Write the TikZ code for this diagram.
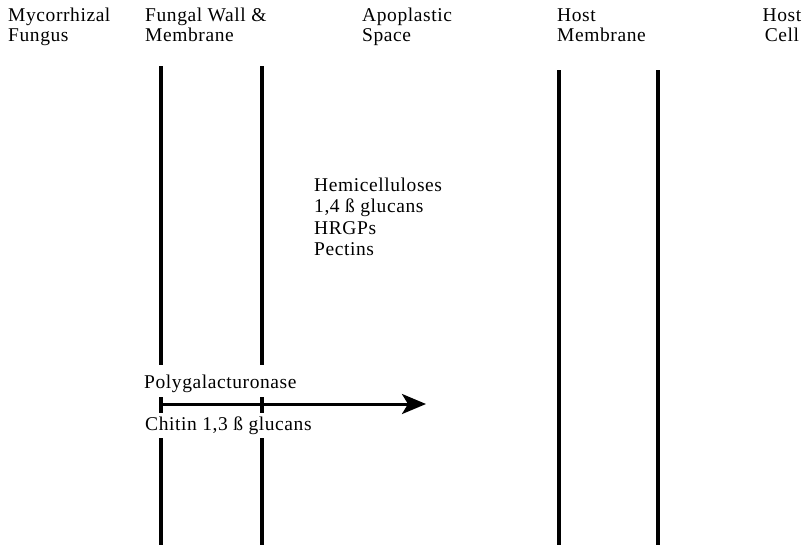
\documentclass[tikz,border=0pt]{standalone}
\usepackage{fontspec}
\setmainfont{Liberation Serif}[LetterSpace=3]
\usetikzlibrary{arrows.meta}
\begin{document}
\begin{tikzpicture}[x=1pt,y=-1pt,
  lbl/.style={inner sep=0pt, anchor=base west, font=\fontsize{19.5}{20}\selectfont},
  lblc/.style={inner sep=0pt, anchor=base, font=\fontsize{19.5}{20}\selectfont},
  wall/.style={line width=3.3pt},
  flow/.style={line width=3pt, -{Stealth[length=24pt,width=20pt,inset=6pt]}}]
\useasboundingbox (0,0) rectangle (805,547);
% headers
\node[lbl] (h1a) at (8,21) {Mycorrhizal};
\node[lbl] (h1b) at (8,41) {Fungus};
\node[lbl] (h2a) at (145,21) {Fungal Wall \&};
\node[lbl] (h2b) at (145,41) {Membrane};
\node[lbl] (h3a) at (362,21) {Apoplastic};
\node[lbl] (h3b) at (362,41) {Space};
\node[lbl] (h4a) at (557,21) {Host};
\node[lbl] (h4b) at (557,41) {Membrane};
\node[lblc] (h5a) at (782,21) {Host};
\node[lblc] (h5b) at (782,41) {Cell};
% apoplastic contents
\node[lbl] (c1) at (314,191) {Hemicelluloses};
\node[lbl] (c2) at (314,212.5) {1,4 ß glucans};
\node[lbl] (c3) at (314,234) {HRGPs};
\node[lbl] (c4) at (314,255.5) {Pectins};
% fungal wall texts
\node[lbl] (p1) at (144,388) {Polygalacturonase};
\node[lbl] (p2) at (145,430) {Chitin 1,3 ß glucans};
% walls
\foreach \x/\n in {161/a,262/b}{
  \coordinate (\n1) at (\x,66);
  \coordinate (\n2) at (\x,365);
  \coordinate (\n3) at (\x,397);
  \coordinate (\n4) at (\x,413);
  \coordinate (\n5) at (\x,438);
  \coordinate (\n6) at (\x,545);
  \draw[wall] (\n1) -- (\n2);
  \draw[wall] (\n3) -- (\n4);
  \draw[wall] (\n5) -- (\n6);
}
\foreach \x/\n in {559/c,658/d}{
  \coordinate (\n1) at (\x,70);
  \coordinate (\n6) at (\x,545);
  \draw[wall] (\n1) -- (\n6);
}
% arrow
\coordinate (s) at (161,404);
\coordinate (t) at (426,404);
\draw[flow] (s) -- (t);
\end{tikzpicture}
\end{document}
